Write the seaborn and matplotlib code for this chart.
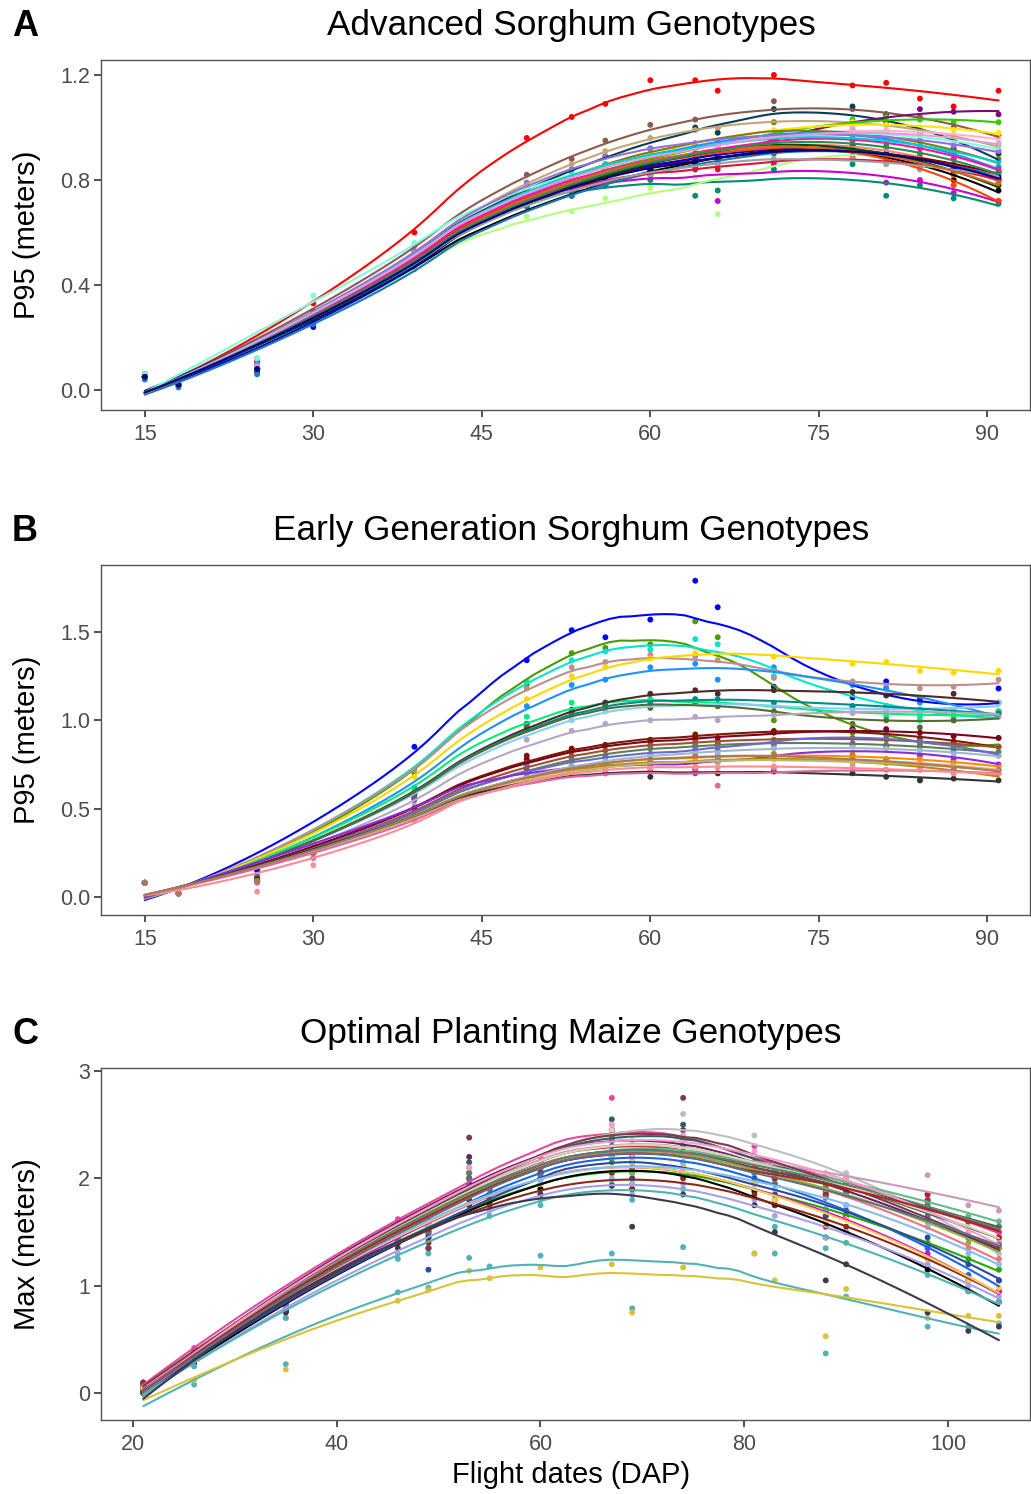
import numpy as np
import pandas as pd
import seaborn as sns
import matplotlib.pyplot as plt

# ---- panel A: advanced sorghum, P95 height (m) per flight date ----
a_days = [15, 18, 25, 30, 39, 49, 53, 56, 60, 64, 66, 71, 78, 81, 84, 87, 91]
a_p95 = [
    [0.06, 0.02, 0.11, 0.33, 0.60, 0.96, 1.04, 1.09, 1.18, 1.18, 1.14, 1.20, 1.16, 1.17, 1.11, 1.08, 1.14],
    [0.05, 0.02, 0.12, 0.30, 0.55, 0.82, 0.88, 0.95, 1.01, 1.03, 1.00, 1.10, 1.07, 1.05, 1.04, 1.00, 0.97],
    [0.06, 0.02, 0.10, 0.30, 0.52, 0.78, 0.84, 0.89, 0.92, 1.00, 0.98, 1.07, 1.08, 1.02, 0.98, 0.92, 0.90],
    [0.05, 0.02, 0.09, 0.29, 0.53, 0.79, 0.86, 0.91, 0.96, 0.99, 1.00, 1.02, 1.02, 1.01, 0.99, 0.96, 0.93],
    [0.05, 0.02, 0.08, 0.28, 0.50, 0.74, 0.78, 0.82, 0.84, 0.88, 0.89, 0.96, 1.02, 1.05, 1.07, 1.06, 1.05],
    [0.05, 0.02, 0.08, 0.28, 0.51, 0.75, 0.80, 0.84, 0.88, 0.92, 0.93, 0.97, 1.03, 1.04, 1.03, 1.02, 1.02],
    [0.05, 0.02, 0.09, 0.29, 0.52, 0.76, 0.82, 0.86, 0.90, 0.94, 0.95, 0.99, 1.02, 1.01, 1.00, 0.99, 0.98],
    [0.05, 0.02, 0.08, 0.28, 0.51, 0.77, 0.82, 0.86, 0.89, 0.92, 0.93, 0.97, 1.00, 0.99, 0.97, 0.97, 0.96],
    [0.05, 0.02, 0.07, 0.27, 0.50, 0.74, 0.77, 0.79, 0.80, 0.74, 0.76, 0.84, 0.86, 0.74, 0.78, 0.73, 0.71],
    [0.05, 0.02, 0.07, 0.27, 0.48, 0.66, 0.68, 0.73, 0.77, 0.81, 0.67, 0.93, 0.92, 0.90, 0.88, 0.85, 0.80],
    [0.05, 0.02, 0.08, 0.27, 0.48, 0.70, 0.74, 0.78, 0.83, 0.87, 0.88, 0.91, 0.92, 0.89, 0.86, 0.80, 0.76],
    [0.05, 0.02, 0.08, 0.28, 0.50, 0.74, 0.77, 0.80, 0.82, 0.85, 0.72, 0.86, 0.88, 0.79, 0.80, 0.75, 0.72],
    [0.05, 0.02, 0.07, 0.24, 0.48, 0.73, 0.78, 0.82, 0.85, 0.88, 0.89, 0.92, 0.93, 0.90, 0.88, 0.84, 0.80],
    [0.04, 0.01, 0.06, 0.25, 0.46, 0.70, 0.74, 0.78, 0.82, 0.86, 0.87, 0.90, 0.92, 0.90, 0.88, 0.84, 0.82],
    [0.05, 0.02, 0.08, 0.28, 0.51, 0.76, 0.81, 0.85, 0.89, 0.93, 0.94, 0.97, 0.99, 0.96, 0.93, 0.88, 0.85],
    [0.05, 0.02, 0.09, 0.29, 0.52, 0.77, 0.82, 0.86, 0.90, 0.93, 0.94, 1.02, 0.98, 0.96, 0.93, 0.90, 0.88],
    [0.05, 0.02, 0.08, 0.28, 0.50, 0.74, 0.79, 0.83, 0.86, 0.89, 0.90, 0.93, 0.94, 0.92, 0.89, 0.84, 0.80],
    [0.05, 0.02, 0.08, 0.28, 0.50, 0.75, 0.80, 0.83, 0.86, 0.89, 0.90, 0.92, 0.92, 0.89, 0.85, 0.78, 0.72],
    [0.05, 0.02, 0.08, 0.28, 0.50, 0.74, 0.78, 0.81, 0.84, 0.87, 0.88, 0.91, 0.92, 0.90, 0.88, 0.85, 0.83],
    [0.05, 0.02, 0.08, 0.27, 0.49, 0.72, 0.77, 0.81, 0.86, 0.90, 0.91, 0.93, 0.93, 0.90, 0.87, 0.82, 0.78],
    [0.06, 0.02, 0.12, 0.36, 0.56, 0.78, 0.82, 0.86, 0.89, 0.92, 0.93, 0.96, 0.99, 0.98, 0.96, 0.94, 0.92],
    [0.05, 0.02, 0.10, 0.29, 0.53, 0.79, 0.84, 0.89, 0.92, 0.94, 0.95, 0.97, 0.98, 0.96, 0.95, 0.93, 0.91],
    [0.05, 0.02, 0.08, 0.28, 0.50, 0.74, 0.78, 0.80, 0.82, 0.84, 0.84, 0.87, 0.89, 0.88, 0.86, 0.83, 0.80],
    [0.05, 0.02, 0.08, 0.27, 0.49, 0.72, 0.76, 0.79, 0.82, 0.86, 0.86, 0.88, 0.88, 0.86, 0.84, 0.84, 0.82],
    [0.05, 0.02, 0.08, 0.28, 0.51, 0.76, 0.80, 0.84, 0.87, 0.90, 0.91, 0.95, 0.97, 0.95, 0.92, 0.88, 0.84],
    [0.05, 0.02, 0.08, 0.28, 0.50, 0.74, 0.79, 0.83, 0.87, 0.90, 0.91, 0.93, 0.92, 0.89, 0.86, 0.82, 0.79],
    [0.05, 0.02, 0.09, 0.29, 0.52, 0.77, 0.82, 0.86, 0.89, 0.92, 0.93, 0.96, 0.97, 0.95, 0.93, 0.90, 0.87],
    [0.05, 0.02, 0.09, 0.29, 0.52, 0.77, 0.81, 0.85, 0.88, 0.92, 0.93, 0.96, 0.99, 0.98, 0.97, 0.95, 0.94],
    [0.05, 0.02, 0.08, 0.28, 0.50, 0.74, 0.78, 0.82, 0.86, 0.90, 0.91, 0.94, 0.95, 0.93, 0.90, 0.86, 0.83],
    [0.05, 0.02, 0.08, 0.27, 0.49, 0.73, 0.77, 0.81, 0.84, 0.87, 0.88, 0.91, 0.92, 0.90, 0.88, 0.84, 0.81],
]

# ---- panel B: early generation sorghum ----
b_days = [15, 18, 25, 30, 39, 49, 53, 56, 60, 64, 66, 71, 78, 81, 84, 87, 91]
b_p95 = [
    [0.08, 0.02, 0.15, 0.30, 0.85, 1.34, 1.51, 1.47, 1.57, 1.79, 1.64, 1.19, 1.13, 1.22, 1.05, 1.00, 1.18],
    [0.08, 0.02, 0.12, 0.30, 0.70, 1.20, 1.38, 1.41, 1.43, 1.56, 1.47, 1.00, 0.93, 0.90, 0.86, 0.84, 0.90],
    [0.08, 0.02, 0.12, 0.30, 0.72, 1.22, 1.34, 1.39, 1.40, 1.46, 1.43, 1.25, 1.08, 1.06, 1.02, 1.03, 1.05],
    [0.08, 0.02, 0.12, 0.30, 0.72, 1.18, 1.30, 1.33, 1.37, 1.36, 1.34, 1.24, 1.22, 1.19, 1.18, 1.19, 1.23],
    [0.08, 0.02, 0.12, 0.30, 0.68, 1.12, 1.25, 1.30, 1.35, 1.38, 1.37, 1.36, 1.32, 1.33, 1.28, 1.27, 1.28],
    [0.08, 0.02, 0.12, 0.29, 0.62, 1.08, 1.20, 1.23, 1.30, 1.32, 1.23, 1.30, 1.20, 1.18, 1.10, 1.06, 1.05],
    [0.08, 0.02, 0.11, 0.28, 0.60, 1.02, 1.10, 1.10, 1.12, 1.10, 1.08, 1.08, 1.07, 1.02, 1.00, 1.02, 1.05],
    [0.08, 0.02, 0.11, 0.28, 0.58, 0.98, 1.06, 1.10, 1.15, 1.17, 1.15, 1.17, 1.16, 1.14, 1.12, 1.15, 1.10],
    [0.08, 0.02, 0.11, 0.28, 0.56, 0.95, 1.00, 1.05, 1.08, 1.10, 1.08, 1.08, 1.06, 1.05, 1.06, 1.05, 1.10],
    [0.08, 0.02, 0.11, 0.28, 0.56, 0.98, 1.05, 1.08, 1.10, 1.12, 1.12, 1.10, 1.08, 1.08, 1.06, 1.05, 1.04],
    [0.08, 0.02, 0.11, 0.28, 0.56, 0.96, 1.04, 1.08, 1.07, 1.10, 1.08, 1.05, 0.98, 1.00, 0.96, 1.00, 1.03],
    [0.08, 0.02, 0.10, 0.27, 0.52, 0.89, 0.94, 0.98, 1.00, 1.02, 1.00, 1.03, 1.04, 1.06, 1.05, 1.06, 1.02],
    [0.08, 0.02, 0.10, 0.26, 0.50, 0.80, 0.84, 0.86, 0.89, 0.92, 0.90, 0.94, 0.95, 0.92, 0.90, 0.88, 0.85],
    [0.08, 0.02, 0.10, 0.26, 0.50, 0.78, 0.83, 0.86, 0.88, 0.90, 0.88, 0.93, 0.95, 0.95, 0.93, 0.91, 0.90],
    [0.08, 0.02, 0.09, 0.26, 0.48, 0.76, 0.80, 0.83, 0.86, 0.88, 0.87, 0.89, 0.90, 0.89, 0.88, 0.86, 0.85],
    [0.08, 0.02, 0.09, 0.25, 0.47, 0.74, 0.78, 0.80, 0.84, 0.86, 0.85, 0.87, 0.87, 0.86, 0.85, 0.83, 0.82],
    [0.08, 0.02, 0.09, 0.25, 0.48, 0.74, 0.77, 0.79, 0.81, 0.84, 0.83, 0.86, 0.94, 0.92, 0.88, 0.84, 0.80],
    [0.08, 0.02, 0.09, 0.26, 0.55, 0.72, 0.74, 0.75, 0.76, 0.70, 0.78, 0.80, 0.86, 0.85, 0.80, 0.78, 0.75],
    [0.08, 0.02, 0.09, 0.25, 0.46, 0.70, 0.74, 0.76, 0.78, 0.79, 0.78, 0.80, 0.81, 0.78, 0.78, 0.76, 0.74],
    [0.08, 0.02, 0.09, 0.25, 0.46, 0.69, 0.72, 0.74, 0.76, 0.77, 0.76, 0.78, 0.78, 0.77, 0.76, 0.74, 0.72],
    [0.08, 0.02, 0.09, 0.25, 0.46, 0.70, 0.73, 0.75, 0.77, 0.79, 0.70, 0.81, 0.80, 0.78, 0.66, 0.72, 0.70],
    [0.08, 0.02, 0.09, 0.24, 0.45, 0.68, 0.71, 0.73, 0.75, 0.77, 0.76, 0.79, 0.75, 0.76, 0.74, 0.74, 0.72],
    [0.08, 0.02, 0.09, 0.25, 0.46, 0.70, 0.74, 0.77, 0.80, 0.82, 0.81, 0.84, 0.85, 0.84, 0.83, 0.81, 0.80],
    [0.08, 0.02, 0.09, 0.25, 0.46, 0.68, 0.70, 0.70, 0.68, 0.72, 0.70, 0.71, 0.70, 0.68, 0.66, 0.67, 0.66],
    [0.08, 0.02, 0.08, 0.22, 0.44, 0.66, 0.69, 0.70, 0.72, 0.72, 0.63, 0.73, 0.73, 0.72, 0.72, 0.70, 0.70],
    [0.08, 0.02, 0.03, 0.18, 0.43, 0.68, 0.70, 0.72, 0.73, 0.74, 0.73, 0.74, 0.73, 0.72, 0.72, 0.70, 0.70],
    [0.08, 0.02, 0.09, 0.25, 0.46, 0.70, 0.73, 0.75, 0.78, 0.80, 0.79, 0.80, 0.78, 0.76, 0.75, 0.73, 0.72],
]

# ---- panel C: optimal planting maize, max height (m) ----
c_days = [21, 26, 35, 46, 49, 53, 55, 60, 67, 69, 74, 81, 83, 88, 90, 98, 102, 105]
c_max = [
    [0.10, 0.42, 0.95, 1.62, 1.62, 2.10, 2.00, 2.20, 2.75, 2.25, 2.35, 2.30, 2.00, 1.95, 2.00, 1.80, 1.60, 1.45],
    [0.05, 0.35, 0.85, 1.50, 1.55, 2.05, 1.95, 2.15, 2.45, 2.35, 2.60, 2.40, 2.10, 2.05, 2.05, 1.65, 1.50, 1.30],
    [0.06, 0.37, 0.88, 1.55, 1.58, 2.20, 1.98, 2.15, 2.45, 2.20, 2.45, 2.15, 2.05, 1.85, 1.90, 1.60, 1.45, 1.35],
    [0.05, 0.35, 0.86, 1.52, 1.55, 2.15, 1.95, 2.10, 2.55, 2.20, 2.50, 2.20, 2.10, 1.90, 1.85, 1.70, 1.55, 1.45],
    [0.07, 0.36, 0.85, 1.50, 1.52, 2.05, 1.95, 2.10, 2.40, 2.20, 2.35, 2.10, 2.00, 1.85, 1.95, 1.80, 1.60, 1.50],
    [0.05, 0.33, 0.82, 1.50, 1.55, 2.10, 1.95, 2.10, 2.50, 2.15, 2.35, 2.20, 2.05, 1.98, 2.00, 2.03, 1.75, 1.70],
    [0.05, 0.34, 0.84, 1.50, 1.52, 2.05, 1.92, 2.05, 2.40, 2.10, 2.35, 2.20, 2.05, 1.90, 1.95, 1.85, 1.65, 1.60],
    [0.05, 0.34, 0.84, 1.48, 1.50, 2.00, 1.92, 2.05, 2.40, 2.15, 2.30, 2.10, 2.00, 1.90, 1.92, 1.78, 1.60, 1.55],
    [0.04, 0.30, 0.78, 1.42, 1.45, 1.95, 1.85, 2.00, 2.30, 2.05, 2.25, 2.05, 1.85, 1.70, 1.75, 1.35, 1.10, 1.05],
    [0.05, 0.32, 0.82, 1.48, 1.50, 2.00, 1.90, 2.05, 2.35, 2.15, 2.30, 2.10, 1.95, 1.85, 1.85, 1.55, 1.35, 1.25],
    [0.05, 0.30, 0.78, 1.40, 1.42, 1.85, 1.80, 1.90, 2.15, 1.95, 2.10, 1.95, 1.80, 1.65, 1.65, 1.40, 1.25, 1.15],
    [0.02, 0.28, 0.76, 1.40, 1.35, 1.85, 1.78, 1.90, 2.20, 1.90, 2.10, 1.88, 1.75, 1.45, 1.50, 1.15, 0.95, 0.85],
    [0.08, 0.30, 0.78, 1.40, 1.40, 1.80, 1.75, 1.85, 2.05, 1.90, 2.00, 1.85, 1.75, 1.55, 1.55, 1.25, 1.05, 0.95],
    [0.05, 0.30, 0.80, 1.42, 1.45, 1.90, 1.85, 1.95, 2.20, 2.00, 2.10, 1.95, 1.80, 1.60, 1.65, 1.30, 1.05, 0.95],
    [0.04, 0.25, 0.70, 1.30, 1.35, 1.75, 1.70, 1.80, 2.00, 1.85, 1.95, 1.80, 1.65, 1.45, 1.50, 1.20, 1.00, 0.90],
    [0.04, 0.25, 0.70, 1.25, 1.30, 1.70, 1.65, 1.75, 1.95, 1.80, 1.90, 1.75, 1.55, 1.35, 1.40, 1.10, 0.95, 0.85],
    [0.06, 0.32, 0.82, 1.45, 1.45, 1.90, 1.85, 1.95, 2.20, 2.00, 2.10, 1.95, 1.80, 1.60, 1.62, 1.25, 1.05, 0.98],
    [0.05, 0.32, 0.82, 1.45, 1.15, 1.95, 1.85, 2.00, 2.25, 2.00, 2.15, 2.00, 1.85, 1.65, 1.70, 1.45, 1.20, 1.05],
    [0.05, 0.32, 0.82, 1.45, 1.48, 1.92, 1.85, 1.98, 2.20, 1.95, 2.15, 2.05, 1.90, 1.72, 1.75, 1.55, 1.30, 1.20],
    [0.05, 0.33, 0.84, 1.48, 1.50, 2.05, 1.90, 2.05, 2.40, 2.05, 2.25, 2.15, 2.00, 1.82, 1.85, 1.60, 1.40, 1.35],
    [0.10, 0.38, 0.90, 1.55, 1.35, 2.38, 1.95, 2.10, 2.45, 2.15, 2.75, 2.20, 2.05, 1.88, 1.90, 1.62, 1.45, 1.40],
    [0.05, 0.35, 0.85, 1.50, 1.52, 2.10, 1.95, 2.10, 2.45, 2.15, 2.35, 2.20, 2.05, 1.90, 1.92, 1.70, 1.55, 1.45],
    [0.05, 0.34, 0.84, 1.50, 1.52, 2.05, 1.95, 2.08, 2.40, 2.10, 2.30, 2.15, 2.05, 1.92, 1.95, 1.75, 1.60, 1.55],
    [0.06, 0.36, 0.88, 1.55, 1.58, 2.10, 2.00, 2.15, 2.50, 2.20, 2.40, 2.25, 2.10, 2.00, 2.02, 1.70, 1.50, 1.40],
    [0.06, 0.34, 0.84, 1.48, 1.50, 2.00, 1.92, 2.05, 2.35, 2.10, 2.25, 2.10, 2.00, 1.85, 1.88, 1.85, 1.60, 1.45],
    [0.05, 0.33, 0.82, 1.45, 1.48, 2.00, 1.90, 2.03, 2.35, 2.10, 2.30, 2.05, 1.95, 1.82, 1.85, 1.65, 1.45, 1.38],
    [0.00, 0.08, 0.27, 0.94, 0.98, 1.26, 1.18, 1.28, 1.30, 0.79, 1.36, 1.30, 1.30, 0.37, 0.90, 0.62, 0.62, 0.65],
    [0.05, 0.12, 0.22, 0.86, 0.96, 1.14, 1.07, 1.17, 1.20, 0.75, 1.17, 1.30, 1.05, 0.53, 0.97, 0.70, 0.72, 0.72],
    [0.00, 0.30, 0.75, 1.35, 1.45, 1.75, 1.80, 1.85, 1.93, 1.55, 1.85, 1.75, 1.50, 1.05, 1.20, 0.75, 0.58, 0.62],
]

a_colors = ["#FF0000", "#8B5A52", "#0B3D55", "#C4A57A", "#7A0A7A", "#33CC00", "#FFE600",
            "#FFB3C6", "#008B74", "#B3FF80", "#000000", "#CC00CC", "#0000CD", "#1F78B4",
            "#1E90FF", "#808000", "#FA8072", "#FF4500", "#800000", "#004D00", "#7FFFD4",
            "#9370DB", "#DC143C", "#A0A0A0", "#FF1493", "#D2691E", "#00CED1", "#DDA0DD",
            "#2E8B57", "#000080"]
b_colors = ["#0000FF", "#4C9900", "#00E5CC", "#BC8F8F", "#FFD700", "#1E90FF", "#00EE76",
            "#4D2B2B", "#87CEFA", "#008B8B", "#556B2F", "#B4A7C4", "#7F1A00", "#800020",
            "#A0522D", "#5E7F5E", "#6A6ACD", "#8A2BE2", "#FF8C00", "#FFA07A", "#B8860B",
            "#BDB76B", "#9FB6CD", "#333333", "#E066A0", "#FF8C94", "#A67B5B"]
c_colors = ["#E7489A", "#BEBEBE", "#6B1F5E", "#2F5F5F", "#DC1F5A", "#CC99BB", "#66BB88",
            "#3E5E4E", "#1A66E6", "#E8767A", "#22AA00", "#000000", "#8B2A1A", "#DD00DD",
            "#A8A0E8", "#4EB3B3", "#F2D04A", "#2B4C9B", "#88BBEE", "#8DB33E", "#7B3B4B",
            "#D8D8B0", "#5F7F6F", "#F0A0C8", "#B22222", "#607080", "#52B2B4", "#D9C23B",
            "#3B3B4B"]


def loess(x, y, xs, span=0.75):
    # local quadratic fit with tricube weights (like R's loess default)
    n = len(x)
    q = int(np.floor(n * span + 1e-5))
    fit = []
    for x0 in xs:
        d = np.abs(x - x0)
        h = np.sort(d)[q - 1]
        w = np.clip(1 - (d / h) ** 3, 0, None) ** 3
        X = np.column_stack([np.ones(n), x - x0, (x - x0) ** 2])
        sw = np.sqrt(w)
        beta = np.linalg.lstsq(X * sw[:, None], y * sw, rcond=None)[0]
        fit.append(beta[0])
    return np.array(fit)


def make_frames(days, values):
    pts, fits = [], []
    x = np.array(days, dtype=float)
    xs = np.linspace(x.min(), x.max(), 80)
    for i, row in enumerate(values):
        g = f"G{i + 1:02d}"
        y = np.array(row, dtype=float)
        pts.append(pd.DataFrame({"day": x, "value": y, "geno": g}))
        fits.append(pd.DataFrame({"day": xs, "value": loess(x, y, xs), "geno": g}))
    return pd.concat(pts), pd.concat(fits)


sns.set_theme(style="white")
plt.rcParams["font.family"] = ["Liberation Sans", "DejaVu Sans"]

fig = plt.figure(figsize=(10.31, 14.94), dpi=100)
W, H = 1031, 1494

panels = [
    ("A", "Advanced Sorghum Genotypes", a_days, a_p95, a_colors, 60, 410,
     (11.1, 93.8), (-0.076, 1.257), [15, 30, 45, 60, 75, 90], [0.0, 0.4, 0.8, 1.2],
     ["0.0", "0.4", "0.8", "1.2"], "P95 (meters)", None),
    ("B", "Early Generation Sorghum Genotypes", b_days, b_p95, b_colors, 565, 915,
     (11.1, 93.8), (-0.102, 1.879), [15, 30, 45, 60, 75, 90], [0.0, 0.5, 1.0, 1.5],
     ["0.0", "0.5", "1.0", "1.5"], "P95 (meters)", None),
    ("C", "Optimal Planting Maize Genotypes", c_days, c_max, c_colors, 1068, 1420,
     (16.86, 108.05), (-0.25, 3.028), [20, 40, 60, 80, 100], [0, 1, 2, 3],
     ["0", "1", "2", "3"], "Max (meters)", "Flight dates (DAP)"),
]

for (letter, title, days, values, colors, top, bottom, xlim, ylim,
     xticks, yticks, ylabels, ylab, xlab) in panels:
    ax = fig.add_axes([101 / W, 1 - bottom / H, 929 / W, (bottom - top) / H])
    pts, fits = make_frames(days, values)
    pal = {f"G{i + 1:02d}": c for i, c in enumerate(colors)}
    sns.scatterplot(data=pts, x="day", y="value", hue="geno", palette=pal,
                    s=18, linewidth=0, legend=False, ax=ax, zorder=2)
    sns.lineplot(data=fits, x="day", y="value", hue="geno", palette=pal,
                 estimator=None, sort=False, lw=1.5, legend=False, ax=ax, zorder=3)
    ax.set_xlim(*xlim)
    ax.set_ylim(*ylim)
    ax.set_xticks(xticks)
    ax.set_yticks(yticks)
    ax.set_yticklabels(ylabels)
    ax.tick_params(axis="both", which="major", bottom=True, left=True, length=5,
                   width=1.2, color="#333333", labelsize=15.5, labelcolor="#4D4D4D")
    ax.tick_params(axis="x", pad=5)
    ax.tick_params(axis="y", pad=3)
    for sp in ax.spines.values():
        sp.set_color("#555555")
        sp.set_linewidth(1.0)
    ax.set_ylabel(ylab, fontsize=21, color="black")
    ax.yaxis.set_label_coords(-60 / 929, 0.5)
    if xlab:
        ax.set_xlabel(xlab, fontsize=21, color="black")
        ax.xaxis.set_label_coords(0.506, -41 / 352)
    else:
        ax.set_xlabel("")
    ax.set_title(title, fontsize=25.3, color="black", pad=18, x=0.506)
    fig.text(12 / W, 1 - (top - 24) / H, letter, fontsize=26, fontweight="bold",
             color="black", va="baseline", ha="left")

fig.savefig("out.png", dpi=100)
